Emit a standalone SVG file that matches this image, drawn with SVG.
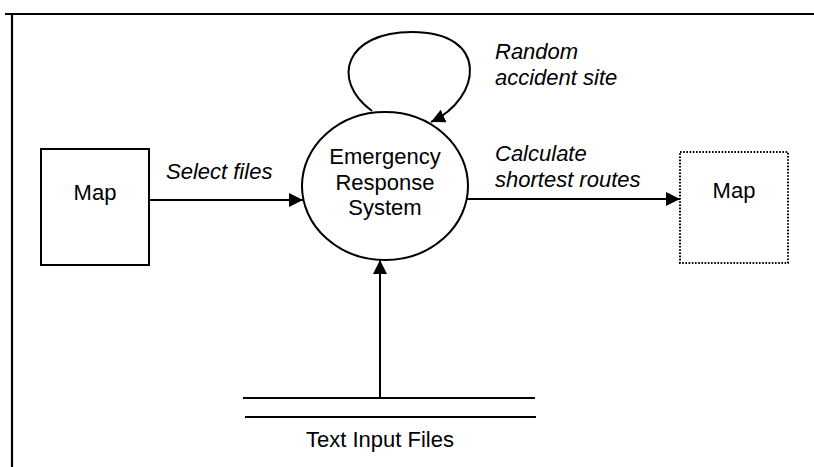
<svg xmlns="http://www.w3.org/2000/svg" width="814" height="467" viewBox="0 0 814 467">
  <defs>
    <style>
      .frame { stroke: #000; stroke-width: 2.2; fill: none; }
      .box { stroke: #000; stroke-width: 2; fill: #fff; }
      .dotted { stroke: #000; stroke-width: 2; fill: #fff; stroke-dasharray: 1.6 1.6; }
      .flow { stroke: #000; stroke-width: 2; fill: none; }
      .lbl { font-family: "Liberation Sans", Arial, sans-serif; font-size: 22px; fill: #000; }
      .it { font-style: italic; }
      .mid { text-anchor: middle; }
    </style>
    <marker id="arrow" viewBox="0 0 14 14" refX="14" refY="7" markerWidth="14" markerHeight="14" markerUnits="userSpaceOnUse" orient="auto">
      <path d="M0,0 L14,7 L0,14 Z" fill="#000"/>
    </marker>
  </defs>
  <rect width="814" height="467" fill="#fff"/>

  <!-- page frame -->
  <path class="frame" d="M5,14 H814 M12,14 V467"/>

  <!-- connectors -->
  <g id="connectors">
    <path class="flow" d="M149,200 H303" marker-end="url(#arrow)"/>
    <path class="flow" d="M467,199 H680" marker-end="url(#arrow)"/>
    <path class="flow" d="M380,398 V260" marker-end="url(#arrow)"/>
    <path class="flow" d="M372,111 C330,80 345,32 412,32 C490,32 482,98 431,122" marker-end="url(#arrow)"/>
    <text class="lbl it" x="166" y="179">Select files</text>
    <text class="lbl it" x="495" y="59">Random</text>
    <text class="lbl it" x="495" y="85">accident site</text>
    <text class="lbl it" x="495" y="161">Calculate</text>
    <text class="lbl it" x="495" y="187">shortest routes</text>
  </g>

  <g id="map-source">
    <rect class="box" x="41" y="149" width="108" height="116"/>
    <text class="lbl mid" x="95" y="200">Map</text>
  </g>

  <g id="ers-process">
    <ellipse class="box" cx="385" cy="186" rx="83" ry="74"/>
    <text class="lbl mid" x="385" y="164">Emergency</text>
    <text class="lbl mid" x="385" y="189.5">Response</text>
    <text class="lbl mid" x="385" y="215">System</text>
  </g>

  <g id="map-output">
    <rect class="dotted" x="680" y="152" width="108" height="111"/>
    <text class="lbl mid" x="734" y="198">Map</text>
  </g>

  <g id="text-input-files">
    <path class="flow" d="M243,398 H535 M245,417 H536"/>
    <text class="lbl mid" x="380" y="447">Text Input Files</text>
  </g>
</svg>
